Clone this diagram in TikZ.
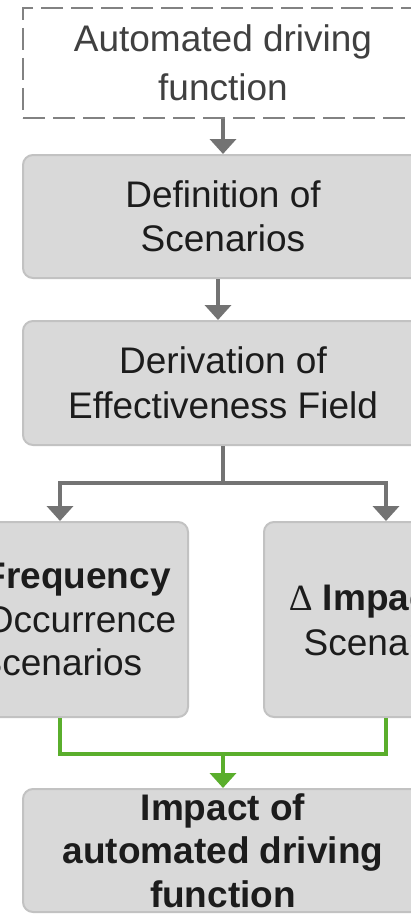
\documentclass[tikz,border=0pt]{standalone}
\usepackage{fontspec}
\setmainfont{Liberation Sans}
\newfontfamily\greekserif{Liberation Serif}
\usetikzlibrary{arrows.meta}

\definecolor{boxfill}{HTML}{D9D9D9}
\definecolor{boxline}{HTML}{C2C2C2}
\definecolor{arrowgray}{HTML}{737373}
\definecolor{flowgreen}{HTML}{5AAE2C}
\definecolor{txt}{HTML}{1C1C1C}
\definecolor{txtsoft}{HTML}{404040}
\definecolor{dashgray}{HTML}{828282}

\tikzset{
  stage/.style={draw=boxline, line width=2pt, fill=boxfill, rounded corners=10pt,
    inner sep=2pt, align=center, text=txt},
  inputbox/.style={draw=dashgray, line width=2pt, dash pattern=on 22pt off 8pt,
    inner sep=2pt, align=center, text=txtsoft},
  flow/.style={draw=arrowgray, line width=4pt, -{Triangle[width=26pt,length=15pt]}},
  flowplain/.style={draw=arrowgray, line width=4pt},
  merge/.style={draw=flowgreen, line width=4pt},
  mergearrow/.style={draw=flowgreen, line width=4pt, -{Triangle[width=26pt,length=15pt]}},
}

\begin{document}
\begin{tikzpicture}[x=1pt, y=-1pt]
  \useasboundingbox (0,0) rectangle (411,915);
  \clip (0,0) rectangle (411,915);

  % input function (dashed)
  \node[inputbox, minimum width=400pt, minimum height=110pt,
        font=\fontsize{37}{49}\selectfont] (adf) at (223,63)
        {Automated driving\\function};

  % processing stages
  \node[stage, minimum width=400pt, minimum height=123pt,
        font=\fontsize{37}{43.5}\selectfont] (scen) at (223,216.5)
        {Definition of\\Scenarios};
  \node[stage, minimum width=400pt, minimum height=124pt,
        font=\fontsize{37}{45}\selectfont] (field) at (223,383)
        {Derivation of\\Effectiveness Field};

  % the two branches
  \node[stage, minimum width=256pt, minimum height=195pt,
        font=\fontsize{37}{43.5}\selectfont] (freq) at (60,619.5)
        {{\greekserif\char"0394} \textbf{Frequency}\\of Occurrence\\Scenarios};
  \node[stage, minimum width=244pt, minimum height=195pt,
        font=\fontsize{37}{45}\selectfont] (imp) at (386,619.5)
        {{\greekserif\char"0394} \textbf{Impact} of\\Scenarios};

  % result
  \node[stage, minimum width=400pt, minimum height=123pt,
        font=\fontsize{37}{43.5}\bfseries\selectfont] (result) at (223,850.5)
        {Impact of\\automated driving\\function};

  % connectors
  \draw[flow] (adf.south) -- (scen.north);
  \draw[flow] ([xshift=-5pt]scen.south) -- ([xshift=-5pt]field.north);

  \coordinate (split) at (223,483);
  \draw[flowplain] (field.south) -- (split);
  \draw[flow] (split) -| (freq.north);
  \draw[flow] (split) -| (imp.north);

  \coordinate (join) at (223,753.5);
  \draw[merge] (freq.south) |- (join);
  \draw[merge] (imp.south) |- (join);
  \draw[mergearrow] (join) -- (result.north);
\end{tikzpicture}
\end{document}
